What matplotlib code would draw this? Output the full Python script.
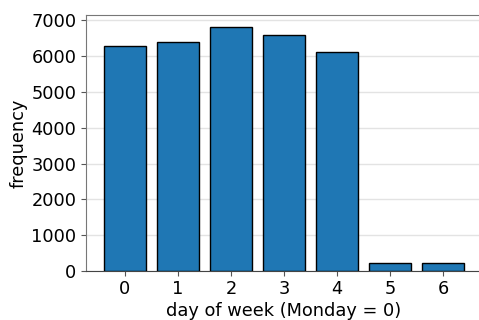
import matplotlib
matplotlib.use("Agg")
import matplotlib.pyplot as plt

# trips per weekday (Monday = 0)
days = [0, 1, 2, 3, 4, 5, 6]
counts = [6280, 6410, 6810, 6580, 6115, 215, 215]

fig = plt.figure(figsize=(4.79, 3.20), dpi=100)
ax = fig.add_axes([85.5 / 479, 49 / 320, 397 / 479, 256 / 320])

ax.bar(days, counts, width=0.8, color="#1f77b4", edgecolor="black",
       linewidth=1.0, zorder=3)

ax.set_yticks(range(0, 7001, 1000))
ax.set_xticks(days)
ax.grid(axis="y", color="#e3e3e3", linewidth=1.0, zorder=0)
ax.tick_params(labelsize=12.8, length=3.5, color="#555555", pad=3)

for side in ("top", "left"):
    ax.spines[side].set_color("#777777")
ax.spines["bottom"].set_color("#444444")
ax.spines["right"].set_visible(False)

ax.set_xlabel("day of week (Monday = 0)", fontsize=12.8, labelpad=3)
ax.set_ylabel("frequency", fontsize=12.8, labelpad=3)

fig.savefig("out.png", dpi=100)
